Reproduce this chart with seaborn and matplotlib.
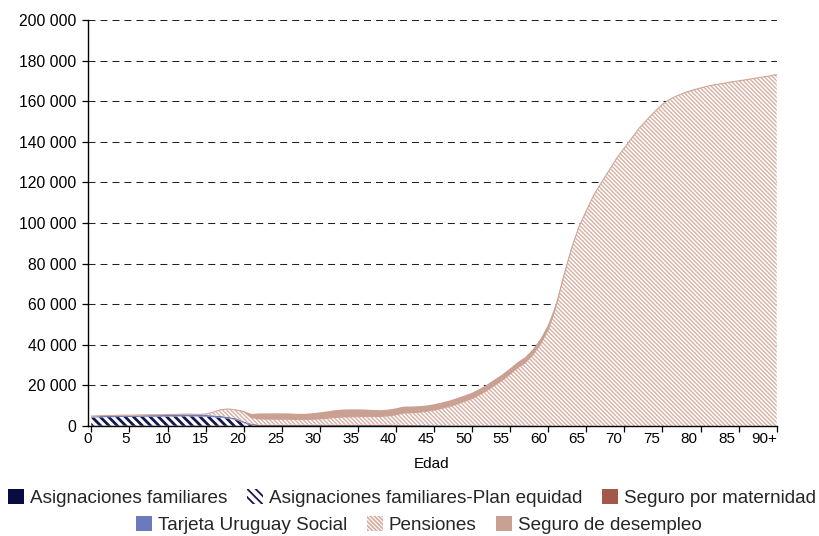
import numpy as np
import pandas as pd
import matplotlib
matplotlib.use("Agg")
import matplotlib.pyplot as plt
import seaborn as sns
from matplotlib.patches import Patch
from matplotlib.ticker import FuncFormatter, FixedLocator

# ---------------- data (ages 0 .. 90+) ----------------
ages = list(range(91))
tick_ages = [0, 5, 10, 15, 20, 25, 30, 35, 40, 45, 50, 55, 60, 65, 70, 75, 80, 85, 90]
tick_labels = ["0", "5", "10", "15", "20", "25", "30", "35", "40", "45",
               "50", "55", "60", "65", "70", "75", "80", "85", "90+"]

asig_familiares = [
    150, 150, 150, 150, 150, 150, 150, 150, 150, 150,
    150, 150, 150, 150, 150, 150, 150, 150, 120, 80,
    40, 0, 0, 0, 0, 0, 0, 0, 0, 0,
    0, 0, 0, 0, 0, 0, 0, 0, 0, 0,
    0, 0, 0, 0, 0, 0, 0, 0, 0, 0,
    0, 0, 0, 0, 0, 0, 0, 0, 0, 0,
    0, 0, 0, 0, 0, 0, 0, 0, 0, 0,
    0, 0, 0, 0, 0, 0, 0, 0, 0, 0,
    0, 0, 0, 0, 0, 0, 0, 0, 0, 0,
    0]

plan_equidad = [
    4000, 4100, 4200, 4200, 4300, 4300, 4300, 4400, 4400, 4400,
    4500, 4500, 4600, 4600, 4500, 4400, 4200, 3900, 3500, 2900,
    1400, 300, 0, 0, 0, 0, 0, 0, 0, 0,
    0, 0, 0, 0, 0, 0, 0, 0, 0, 0,
    0, 0, 0, 0, 0, 0, 0, 0, 0, 0,
    0, 0, 0, 0, 0, 0, 0, 0, 0, 0,
    0, 0, 0, 0, 0, 0, 0, 0, 0, 0,
    0, 0, 0, 0, 0, 0, 0, 0, 0, 0,
    0, 0, 0, 0, 0, 0, 0, 0, 0, 0,
    0]

seguro_maternidad = [
    0, 0, 0, 0, 0, 0, 0, 0, 0, 0,
    0, 0, 0, 0, 0, 0, 50, 100, 150, 200,
    300, 400, 400, 400, 400, 400, 400, 400, 400, 400,
    400, 400, 400, 400, 400, 400, 400, 400, 400, 400,
    400, 300, 250, 200, 150, 100, 50, 0, 0, 0,
    0, 0, 0, 0, 0, 0, 0, 0, 0, 0,
    0, 0, 0, 0, 0, 0, 0, 0, 0, 0,
    0, 0, 0, 0, 0, 0, 0, 0, 0, 0,
    0, 0, 0, 0, 0, 0, 0, 0, 0, 0,
    0]

tarjeta_uruguay = [
    600, 650, 700, 700, 750, 750, 800, 800, 850, 850,
    900, 900, 950, 950, 900, 900, 850, 800, 700, 650,
    550, 450, 300, 300, 300, 300, 300, 300, 300, 300,
    300, 300, 300, 300, 300, 300, 300, 300, 300, 300,
    300, 300, 300, 300, 300, 300, 300, 300, 300, 300,
    300, 300, 300, 300, 300, 300, 300, 250, 200, 100,
    50, 0, 0, 0, 0, 0, 0, 0, 0, 0,
    0, 0, 0, 0, 0, 0, 0, 0, 0, 0,
    0, 0, 0, 0, 0, 0, 0, 0, 0, 0,
    0]

pensiones = [
    150, 150, 150, 150, 150, 150, 150, 150, 150, 150,
    150, 150, 150, 150, 150, 400, 1600, 3100, 3900, 4100,
    4800, 3000, 2800, 2700, 2650, 2650, 2600, 2500, 2500, 2600,
    2800, 3100, 3500, 3700, 3800, 3900, 4000, 4000, 4000, 4300,
    4800, 5750, 5950, 6250, 6750, 7400, 8300, 9300, 10500, 11800,
    13200, 15100, 17300, 19800, 22300, 25300, 28400, 31000, 35000, 40300,
    47400, 58500, 73400, 86700, 97850, 106000, 114000, 120000, 126000, 132000,
    137000, 142000, 147000, 151000, 155000, 158500, 161000, 162800, 164300, 165500,
    166500, 167500, 168200, 168800, 169500, 170000, 170600, 171200, 171800, 172400,
    173200]

seguro_desempleo = [
    0, 0, 0, 0, 0, 0, 0, 0, 0, 0,
    0, 0, 0, 0, 0, 0, 0, 0, 0, 0,
    300, 1800, 2700, 2800, 2900, 2900, 2900, 2800, 2800, 3000,
    3200, 3400, 3600, 3700, 3700, 3600, 3400, 3200, 3100, 3100,
    3200, 3200, 3100, 3000, 2900, 2900, 2900, 2900, 2900, 2900,
    2900, 2900, 2900, 2900, 2900, 2800, 2800, 2700, 2700, 2600,
    2500, 1500, 600, 300, 150, 0, 0, 0, 0, 0,
    0, 0, 0, 0, 0, 0, 0, 0, 0, 0,
    0, 0, 0, 0, 0, 0, 0, 0, 0, 0,
    0]

series_names = ["Asignaciones familiares", "Asignaciones familiares-Plan equidad",
                "Seguro por maternidad", "Tarjeta Uruguay Social", "Pensiones",
                "Seguro de desempleo"]

df = pd.DataFrame({
    "Edad": ages,
    series_names[0]: asig_familiares,
    series_names[1]: plan_equidad,
    series_names[2]: seguro_maternidad,
    series_names[3]: tarjeta_uruguay,
    series_names[4]: pensiones,
    series_names[5]: seguro_desempleo,
})

# ---------------- style ----------------
sns.set_theme(style="white")
plt.rcParams["font.family"] = ["Liberation Sans", "DejaVu Sans"]

NAVY = "#0b0b42"
NAVY_HATCH = "#16164f"
MATERN = "#a3584a"
TUS = "#6b7abd"
PENS = "#d6b0a3"
PENS_EDGE = "#d0a696"
DESEMP = "#c9a091"

styles = {
    series_names[0]: dict(face=NAVY, hatch=None),
    series_names[1]: dict(face="white", hatch="\\" * 4, hcolor=NAVY_HATCH, hlw=2.0),
    series_names[2]: dict(face=MATERN, hatch=None),
    series_names[3]: dict(face=TUS, hatch=None),
    series_names[4]: dict(face="white", hatch="\\" * 8, hcolor=PENS, hlw=1.0),
    series_names[5]: dict(face=DESEMP, hatch=None),
}

fig = plt.figure(figsize=(8.19, 5.36), dpi=100)
ax = fig.add_axes([87.7 / 819, 110 / 536, 689 / 819, 406 / 536])
ax.set_axisbelow(True)

x = df["Edad"].to_numpy()
base = np.zeros(len(x))
for i, name in enumerate(series_names):
    vals = df[name].to_numpy(dtype=float)
    top = base + vals
    st = styles[name]
    if st["hatch"] is None:
        ax.fill_between(x, base, top, facecolor=st["face"], edgecolor="none",
                        linewidth=0, zorder=2 + i * 0.1)
    else:
        plt.rcParams["hatch.linewidth"] = st["hlw"]
        coll = ax.fill_between(x, base, top, facecolor=st["face"],
                               edgecolor=st["hcolor"], hatch=st["hatch"],
                               linewidth=0, zorder=2 + i * 0.1)
        if hasattr(coll, "set_hatch_linewidth"):
            coll.set_hatch_linewidth(st["hlw"])
    if name == series_names[4]:
        edge_df = pd.DataFrame({"Edad": x, "top": top})
        sns.lineplot(data=edge_df, x="Edad", y="top", ax=ax, color=PENS_EDGE,
                     linewidth=0.8, zorder=2.45, legend=False)
    base = top

ax.set_xlim(0, 90)
ax.set_ylim(0, 200000)
ax.set_xlabel("")
ax.set_ylabel("")

# grid: dashed horizontal lines
ax.yaxis.set_major_locator(FixedLocator(list(range(0, 200001, 20000))))
ax.grid(axis="y", color="#222222", linewidth=0.75, linestyle=(0, (6.7, 4.8)))
ax.grid(axis="x", visible=False)

ax.yaxis.set_major_formatter(FuncFormatter(lambda v, p: f"{int(v):,}".replace(",", " ")))

# x ticks: marks at category positions, labels slightly shifted as in reference
ax.set_xticks(tick_ages)
ax.set_xticklabels([""] * len(tick_ages))
label_pos = [-0.48 + 0.9875 * a for a in tick_ages]
ax.set_xticks(label_pos, minor=True)
ax.set_xticklabels(tick_labels, minor=True)
ax.tick_params(axis="x", which="minor", length=0, labelsize=11, pad=4, colors="#000000")
ax.tick_params(axis="x", which="major", direction="out", length=4, width=0.9, color="black", bottom=True)
ax.tick_params(axis="y", which="major", direction="out", length=4, width=0.9, color="black",
               labelsize=11.3, pad=4, left=True, labelcolor="black")

for s in ["top", "right"]:
    ax.spines[s].set_visible(False)
for s in ["left", "bottom"]:
    ax.spines[s].set_visible(True)
    ax.spines[s].set_color("black")
    ax.spines[s].set_linewidth(1.0)
    ax.spines[s].set_zorder(5)

fig.text(432 / 819, 1 - 464 / 536, "Edad", ha="center", va="center", fontsize=11, color="black")

# legend: two centred rows
def handle(name):
    st = styles[name]
    if st["hatch"] is None:
        return Patch(facecolor=st["face"], edgecolor="none", linewidth=0)
    return Patch(facecolor="white", edgecolor=st["hcolor"], hatch=st["hatch"], linewidth=0)

plt.rcParams["hatch.linewidth"] = 1.3
leg_kw = dict(frameon=False, fontsize=13.6, handlelength=0.85, handleheight=0.85,
              handletextpad=0.3, columnspacing=1.05, borderpad=0, borderaxespad=0,
              loc="center")
row1 = series_names[:3]
row2 = series_names[3:]
leg1 = fig.legend([handle(n) for n in row1], row1, ncol=3,
                  bbox_to_anchor=(412 / 819, 1 - 498 / 536), **leg_kw)
leg2 = fig.legend([handle(n) for n in row2], row2, ncol=3,
                  bbox_to_anchor=(419 / 819, 1 - 525 / 536), **leg_kw)

fig.savefig("out.png", dpi=100, facecolor="white")
